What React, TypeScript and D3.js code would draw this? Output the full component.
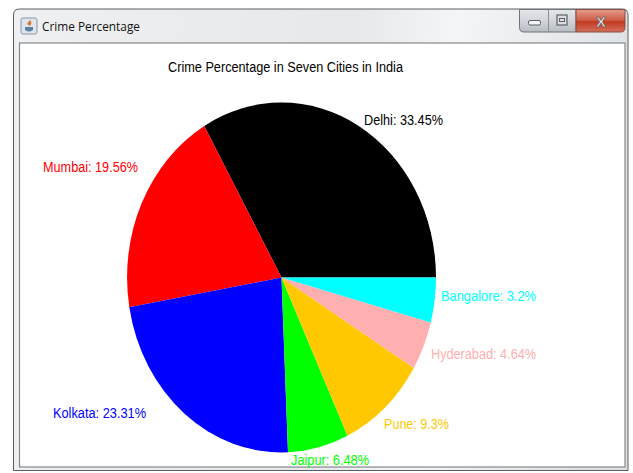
import React from "react";
import * as d3 from "d3";

const cities = ["Delhi", "Mumbai", "Kolkata", "Jaipur", "Pune", "Hyderabad", "Bangalore"];
// Percentages printed in the labels
const labelShares = [33.45, 19.56, 23.31, 6.48, 9.3, 4.64, 3.2];
const sliceShares = [33.33, 19.39, 22.95, 6.36, 9.33, 4.5, 4.14];
const colors = ["#000000", "#ff0000", "#0000ff", "#00ff00", "#ffc800", "#ffafaf", "#00ffff"];
const labelX = [364, 43, 53, 291, 384, 431, 441];
const labelY = [125, 172, 418, 465, 429, 359, 301];
const labelW = [79, 95, 93, 78, 65, 105, 95];

const cx = 281.5, cy = 277.5, rx = 154.5, ry = 175;
const font = "'Liberation Sans', Arial, sans-serif";

export default function App() {
  const pie = d3.pie<number>().sort(null).startAngle(Math.PI / 2).endAngle(Math.PI / 2 - 2 * Math.PI);
  const arcs = pie(sliceShares);
  const arc = d3.arc<d3.PieArcDatum<number>>().innerRadius(0).outerRadius(1);
  return (
    <svg width={633} height={473} style={{ position: "absolute", left: 0, top: 0, background: "#fff" }}>
      <defs>
        <linearGradient id="chrome" x1="0" y1="0" x2="1" y2="0.08">
          <stop offset="0" stopColor="#eef0f1" />
          <stop offset="0.55" stopColor="#e6e8ea" />
          <stop offset="0.72" stopColor="#f4f5f6" />
          <stop offset="1" stopColor="#dfe2e5" />
        </linearGradient>
        <linearGradient id="close" x1="0" y1="0" x2="0" y2="1">
          <stop offset="0" stopColor="#e49c8c" />
          <stop offset="0.45" stopColor="#d0604a" />
          <stop offset="0.55" stopColor="#c23a22" />
          <stop offset="1" stopColor="#d4705c" />
        </linearGradient>
        <linearGradient id="btn" x1="0" y1="0" x2="0" y2="1">
          <stop offset="0" stopColor="#e4e6e9" />
          <stop offset="0.5" stopColor="#d2d5d9" />
          <stop offset="1" stopColor="#b8bcc2" />
        </linearGradient>
      </defs>
      <path d="M13.5 470.5V15q0-6 6-6H622q6 0 6 6v455.5z" fill="url(#chrome)" stroke="#5a5f63" strokeWidth={1} />
      <rect x={19.5} y={43} width={605.5} height={424} fill="#ffffff" stroke="#85888b" strokeWidth={1.2} />

      <rect x={21} y={18} width={16} height={16} rx={2} fill="#dfe5ec" stroke="#8a97a8" />
      <path d="M25 27h8v3q-4 3-8 0z" fill="#5b7fa6" />
      <path d="M30 20l-3 4 3 2 1.5-3z" fill="#d9762b" />
      <text x={42} y={31} fontFamily="'Open Sans', 'Noto Sans', sans-serif" fontSize={12} textLength={98} lengthAdjust="spacingAndGlyphs" fill="#111">Crime Percentage</text>

      <path d="M519.5 9.5H576V32H524q-4.5 0-4.5-4.5z" fill="url(#btn)" stroke="#6f747a" />
      <line x1={548.5} y1={10} x2={548.5} y2={32} stroke="#8a8f95" />
      <path d="M576 9.5H625V27.5q0 4.5-4.5 4.5H576z" fill="url(#close)" stroke="#8a4a40" />
      <rect x={528.5} y={20.5} width={12} height={4.5} rx={1.5} fill="#f4f5f6" stroke="#5c6066" />
      <rect x={557} y={15} width={10} height={10} fill="#dcdee2" stroke="#5c6066" strokeWidth={1.2} />
      <rect x={559.5} y={18.5} width={5} height={3} fill="none" stroke="#5c6066" />
      <text x={601} y={26.5} textAnchor="middle" fontFamily={font} fontWeight="bold" fontSize={15} fill="#f0f0f0" stroke="#555" strokeWidth={0.6}>X</text>

      <text x={168} y={72} fontFamily={font} fontSize={14} textLength={235} lengthAdjust="spacingAndGlyphs" fill="#000">
        Crime Percentage in Seven Cities in India
      </text>

      <g transform={`translate(${cx},${cy}) scale(${rx},${ry})`}>
        {arcs.map((a, i) => (
          <path key={cities[i]} d={arc(a) ?? ""} fill={colors[i]} />
        ))}
      </g>

      {cities.map((c, i) => (
        <text key={c} x={labelX[i]} y={labelY[i]} fontFamily={font} fontSize={14} textLength={labelW[i]} lengthAdjust="spacingAndGlyphs" fill={colors[i]}>
          {`${c}: ${labelShares[i]}%`}
        </text>
      ))}
    </svg>
  );
}
